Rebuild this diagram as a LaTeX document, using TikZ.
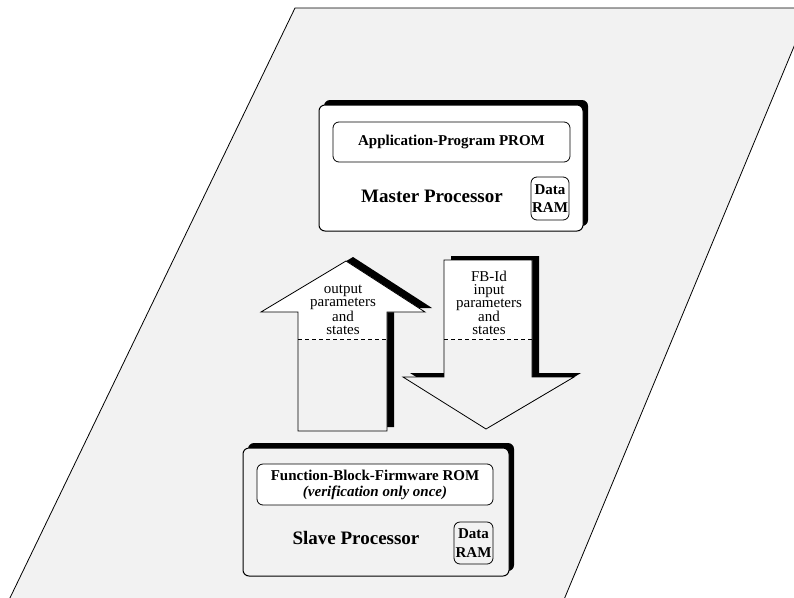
\documentclass[tikz,border=0pt]{standalone}
\usepackage{fontspec}
\setmainfont{Liberation Serif}
\usetikzlibrary{shadows,positioning}
\definecolor{sheetgray}{HTML}{F2F2F2}

\tikzset{
  procbox/.style={draw, line width=1pt, rounded corners=6pt, inner sep=0pt,
    drop shadow={shadow xshift=5pt, shadow yshift=5pt, fill=black, opacity=1}},
  membox/.style={draw, line width=0.8pt, rounded corners=6pt, inner sep=1pt,
    align=center, font=\bfseries\fontsize{15}{16}\selectfont},
  ramtxt/.style={font=\bfseries\fontsize{15}{18.5}\selectfont},
  bigtxt/.style={font=\bfseries\fontsize{19}{21}\selectfont},
  arrtxt/.style={align=center, inner sep=0pt, font=\fontsize{15}{13}\selectfont},
  arrshadow/.style={fill=black, xshift=7pt, yshift=4pt},
  uparr/.style={insert path={(298,431) -- (298,312) -- (261,312) -- (346,261)
    -- (425,312) -- (387,312) -- (387,431) -- cycle}},
  downarr/.style={insert path={(444,260) -- (532,260) -- (532,377) -- (574,377)
    -- (486,429) -- (403,377) -- (444,377) -- cycle}},
}

\begin{document}
\begin{tikzpicture}[x=1pt, y=-1pt]
\useasboundingbox (0,0) rectangle (794,597);

% sheet
\begin{scope}
  \clip (0,0) rectangle (794,597);
  \draw[fill=sheetgray, line width=0.8pt] (295,8) -- (810,8) -- (563,602) -- (8,602) -- cycle;
\end{scope}

% master processor
\node[procbox, fill=white, minimum width=264, minimum height=126] (master) at (451,168) {};
\node[membox, fill=white, minimum width=237, minimum height=40] (prom) at (451.5,142) {Application-Program PROM};
\node[bigtxt] (mastertxt) at (432,196) {Master Processor};
\node[membox, ramtxt, fill=white, minimum width=38, minimum height=43] (mram) at (550,198.5) {Data\\RAM};

% slave processor
\node[procbox, fill=sheetgray, minimum width=266, minimum height=128] (slave) at (376,512) {};
\node[membox, fill=white, minimum width=236, minimum height=41] (rom) at (375,484.5) {Function-Block-Firmware ROM\\\textit{(verification only once)}};
\node[bigtxt] (slavetxt) at (356,538) {Slave Processor};
\node[membox, ramtxt, fill=sheetgray, minimum width=39, minimum height=42] (sram) at (473.5,543) {Data\\RAM};

% arrows
\foreach \a in {uparr,downarr} {
  \fill[arrshadow, \a];
  \fill[sheetgray, \a];
  \begin{scope}
    \clip (0,0) rectangle (794,339);
    \fill[white, \a];
  \end{scope}
  \draw[line width=0.8pt, \a];
}
\draw[dash pattern=on 4pt off 3pt, line width=0.7pt] (298,339) -- (387,339);
\draw[dash pattern=on 4pt off 3pt, line width=0.7pt] (444,339) -- (532,339);
\node[arrtxt] (outtxt) at (343,310) {output\\parameters\\and\\states};
\node[arrtxt] (intxt) at (489,303) {FB-Id\\input\\parameters\\and\\states};
\end{tikzpicture}
\end{document}
